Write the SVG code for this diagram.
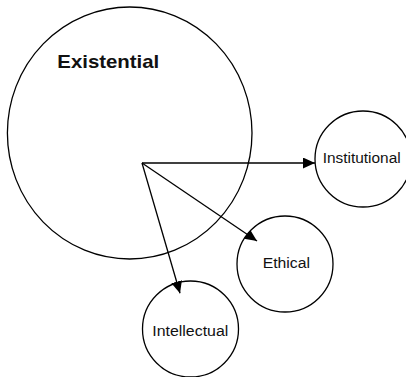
<svg xmlns="http://www.w3.org/2000/svg" width="406" height="377" viewBox="0 0 406 377">
  <style>
    .node { fill: #ffffff; stroke: #000000; stroke-width: 1.3; }
    .lbl { font-family: "Liberation Sans", Arial, Helvetica, sans-serif; fill: #111111; font-size: 15.5px; }
    .big { font-weight: bold; font-size: 18.5px; }
    .edge { fill: none; stroke: #000000; stroke-width: 1.3; marker-end: url(#arrow); }
  </style>
  <defs>
    <marker id="arrow" markerUnits="userSpaceOnUse" markerWidth="14" markerHeight="12" refX="12" refY="5.5" orient="auto">
      <path d="M0,0 L12,5.5 L0,11 Z" fill="#000000"/>
    </marker>
  </defs>
  <rect width="406" height="377" fill="#ffffff"/>
  <g id="node-existential">
    <ellipse class="node" cx="129.7" cy="133" rx="122.3" ry="126"/>
    <text class="lbl big" x="57.3" y="68.3" textLength="102" lengthAdjust="spacingAndGlyphs">Existential</text>
  </g>
  <g id="node-institutional">
    <circle class="node" cx="363" cy="159" r="48"/>
    <text class="lbl" x="322.7" y="163.3" textLength="78" lengthAdjust="spacingAndGlyphs">Institutional</text>
  </g>
  <g id="node-ethical">
    <circle class="node" cx="285" cy="264" r="48"/>
    <text class="lbl" x="262.7" y="268.3" textLength="47.3" lengthAdjust="spacingAndGlyphs">Ethical</text>
  </g>
  <g id="node-intellectual">
    <circle class="node" cx="190.5" cy="329" r="48"/>
    <text class="lbl" x="152.3" y="335.7" textLength="76" lengthAdjust="spacingAndGlyphs">Intellectual</text>
  </g>
  <g id="connectors">
    <line class="edge" x1="142" y1="163" x2="315" y2="163"/>
    <line class="edge" x1="142" y1="163" x2="257" y2="241"/>
    <line class="edge" x1="142" y1="163" x2="180" y2="293.3"/>
  </g>
</svg>
